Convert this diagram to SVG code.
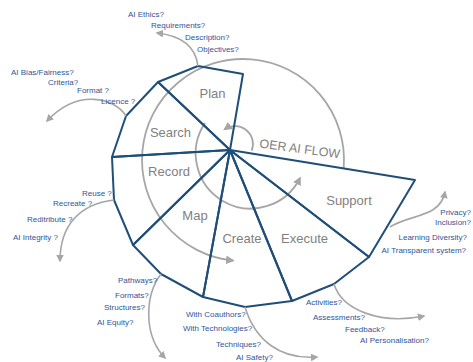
<svg xmlns="http://www.w3.org/2000/svg" width="473" height="362" viewBox="0 0 473 362">
  <defs>
    <marker id="head" viewBox="0 0 10 10" refX="8" refY="5" markerWidth="4.8" markerHeight="4.8" markerUnits="strokeWidth" orient="auto">
      <path d="M0,0 L10,5 L0,10 Z" fill="#a6a6a6"/>
    </marker>
    <style>
      .sector { fill: none; stroke: #1f4e79; stroke-width: 2; stroke-linejoin: round; }
      .flow { fill: none; stroke: #a6a6a6; stroke-width: 1.8; }
      .call { fill: none; stroke: #a6a6a6; stroke-width: 1.6; marker-end: url(#head); }
      .label { font-family: "Liberation Sans", Arial, sans-serif; font-size: 13px; fill: #7f7f7f; text-anchor: middle; }
      .title { font-family: "Liberation Sans", Arial, sans-serif; font-size: 12.5px; fill: #7f7f7f; }
      .q { font-family: "Liberation Sans", Arial, sans-serif; font-size: 8px; fill: #2f5597; }
      .qe { font-family: "Liberation Sans", Arial, sans-serif; font-size: 8px; fill: #2f5597; text-anchor: end; }
    </style>
  </defs>

  <rect width="473" height="362" fill="#ffffff"/>

  <!-- circular flow arrows -->
  <g id="flow-arrows">
    <path class="flow" d="M343.7,167.9 A101,101 0 1 0 233,260.5" marker-end="url(#head)"/>
    <path class="flow" d="M205,123 A55,55 0 1 0 300,178" marker-end="url(#head)"/>
    <path class="flow" d="M251.7,150.7 A18,18 0 0 0 224.7,129.3" marker-end="url(#head)"/>
  </g>

  <!-- sectors -->
  <g id="plan">
    <polygon class="sector" points="230,150 243,74 198,66 158,82"/>
    <text class="label" x="212.5" y="97.5">Plan</text>
  </g>
  <g id="search">
    <polygon class="sector" points="230,150 158,82 126,116 112,157"/>
    <text class="label" x="170.5" y="136.5">Search</text>
  </g>
  <g id="record">
    <polygon class="sector" points="230,150 112,157 114,200 133,245"/>
    <text class="label" x="169" y="175.5">Record</text>
  </g>
  <g id="map">
    <polygon class="sector" points="230,150 133,245 161,274 203,297"/>
    <text class="label" x="195" y="219.5">Map</text>
  </g>
  <g id="create">
    <polygon class="sector" points="230,150 203,297 245,307 292,301"/>
    <text class="label" x="242" y="242.5">Create</text>
  </g>
  <g id="execute">
    <polygon class="sector" points="230,150 292,301 334,284 369,257"/>
    <text class="label" x="304.5" y="242.5">Execute</text>
  </g>
  <g id="support">
    <polygon class="sector" points="230,150 369,257 415,180"/>
    <text class="label" x="349" y="204.5">Support</text>
  </g>

  <g id="title">
    <text class="title" transform="translate(259,147.5) rotate(7.6)">OER AI FLOW</text>
  </g>

  <!-- callout connectors -->
  <g id="connectors">
    <path class="call" d="M198,66 C196,50 185,36 157,33"/>
    <path class="call" d="M126,116 C115,98 78,88 47,121"/>
    <path class="call" d="M114,200 C80,204 60,225 60,261"/>
    <path class="call" d="M161,274 C145,295 143,335 165,358"/>
    <path class="call" d="M245,307 C255,340 280,360 317,357"/>
    <path class="call" d="M334,284 C342,310 380,325 424,316"/>
    <path class="call" d="M390,227 C410,214 440,218 445,192"/>
  </g>

  <!-- question lists -->
  <g id="q-plan">
    <text class="q" x="128" y="16.8">AI Ethics?</text>
    <text class="q" x="151" y="27.8">Requirements?</text>
    <text class="q" x="185" y="39.8">Description?</text>
    <text class="q" x="197" y="51.8">Objectives?</text>
  </g>
  <g id="q-search">
    <text class="q" x="11" y="74.8">AI Bias/Fairness?</text>
    <text class="q" x="48" y="84.8">Criteria?</text>
    <text class="q" x="77" y="92.8">Format ?</text>
    <text class="q" x="101" y="103.8">Licence ?</text>
  </g>
  <g id="q-record">
    <text class="q" x="82" y="195.8">Reuse ?</text>
    <text class="q" x="53" y="205.8">Recreate ?</text>
    <text class="q" x="27" y="221.8">Reditribute ?</text>
    <text class="q" x="13" y="239.8">AI Integrity ?</text>
  </g>
  <g id="q-map">
    <text class="q" x="118" y="282.8">Pathways?</text>
    <text class="q" x="115" y="297.8">Formats?</text>
    <text class="q" x="104" y="309.8">Structures?</text>
    <text class="q" x="97" y="324.8">AI Equity?</text>
  </g>
  <g id="q-create">
    <text class="q" x="186" y="316.8">With Coauthors?</text>
    <text class="q" x="183" y="330.8">With Technologies?</text>
    <text class="q" x="216" y="346.8">Techniques?</text>
    <text class="q" x="236" y="359.8">AI Safety?</text>
  </g>
  <g id="q-execute">
    <text class="q" x="306" y="304.8">Activities?</text>
    <text class="q" x="313" y="319.8">Assessments?</text>
    <text class="q" x="345" y="331.8">Feedback?</text>
    <text class="q" x="360" y="342.8">AI Personalisation?</text>
  </g>
  <g id="q-support">
    <text class="qe" x="471" y="214.8">Privacy?</text>
    <text class="qe" x="471" y="224.8">Inclusion?</text>
    <text class="qe" x="467" y="239.8">Learning Diversity?</text>
    <text class="qe" x="466" y="252.8">AI Transparent system?</text>
  </g>
</svg>
